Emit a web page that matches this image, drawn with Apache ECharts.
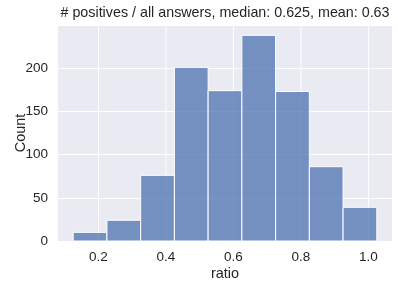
<!DOCTYPE html>
<html>
<head>
<meta charset="utf-8">
<script src="https://cdn.jsdelivr.net/npm/echarts@6/dist/echarts.min.js"></script>
<style>html,body{margin:0;padding:0;background:#fff}#c{width:398px;height:288px}</style>
</head>
<body>
<div id="c"></div>
<script>
const binEdges = [0.125, 0.225, 0.325, 0.425, 0.525, 0.625, 0.725, 0.825, 0.925, 1.025];
const counts = [10, 24, 76, 201, 174, 238, 173, 86, 39];
const xTicks = [0.2, 0.4, 0.6, 0.8, 1.0];
const yTicks = [0, 50, 100, 150, 200];
const titleText = '# positives / all answers, median: 0.625, mean: 0.63';

const barData = counts.map((c, i) => [binEdges[i], binEdges[i + 1], c]);
const font = '"Liberation Sans", Arial, sans-serif';
const textColor = '#262626';

const chart = echarts.init(document.getElementById('c'), null, {renderer: 'canvas'});
chart.setOption({
  animation: false,
  backgroundColor: '#ffffff',
  graphic: [{
    type: 'text', x: 225, y: 20,
    style: {text: titleText, fontFamily: font, fontSize: 14.3, fill: textColor,
      textAlign: 'center', textVerticalAlign: 'bottom'}
  }],
  grid: {left: 58, right: 6, top: 25, bottom: 47, show: true, backgroundColor: '#EAEAF2', borderWidth: 0,
    containLabel: false, outerBoundsMode: 'none'},
  xAxis: {
    type: 'value', min: 0.08, max: 1.07,
    name: 'ratio', nameLocation: 'middle', nameGap: 25, nameMoveOverlap: false,
    nameTextStyle: {fontFamily: font, fontSize: 14.5, color: textColor},
    axisLine: {show: false}, axisTick: {show: false}, splitLine: {show: false},
    axisLabel: {customValues: xTicks, fontFamily: font, fontSize: 13.5, color: textColor, margin: 9,
      formatter: v => v.toFixed(1)}
  },
  yAxis: {
    type: 'value', min: 0, max: 250, interval: 50,
    name: 'Count', nameLocation: 'middle', nameGap: 30, nameRotate: 90, nameMoveOverlap: false,
    nameTextStyle: {fontFamily: font, fontSize: 14.5, color: textColor},
    axisLine: {show: false}, axisTick: {show: false},
    splitLine: {show: true, lineStyle: {color: '#ffffff', width: 1}},
    axisLabel: {customValues: yTicks, fontFamily: font, fontSize: 13.5, color: textColor, margin: 10}
  },
  series: [
    {
      type: 'custom', z: 1, silent: true,
      data: xTicks,
      renderItem: function (params, api) {
        const x = api.value(0);
        const p0 = api.coord([x, 0]);
        const p1 = api.coord([x, 250]);
        return {type: 'line', shape: {x1: p0[0], y1: p0[1], x2: p1[0], y2: p1[1]},
          style: {stroke: '#ffffff', lineWidth: 1}};
      }
    },
    {
      type: 'custom', z: 2, silent: true,
      data: barData,
      renderItem: function (params, api) {
        const a = api.coord([api.value(0), api.value(2)]);
        const b = api.coord([api.value(1), 0]);
        return {type: 'rect', shape: {x: a[0], y: a[1], width: b[0] - a[0], height: b[1] - a[1]},
          style: {fill: 'rgba(76,114,176,0.75)', stroke: '#ffffff', lineWidth: 1}};
      }
    }
  ]
});
</script>
</body>
</html>
